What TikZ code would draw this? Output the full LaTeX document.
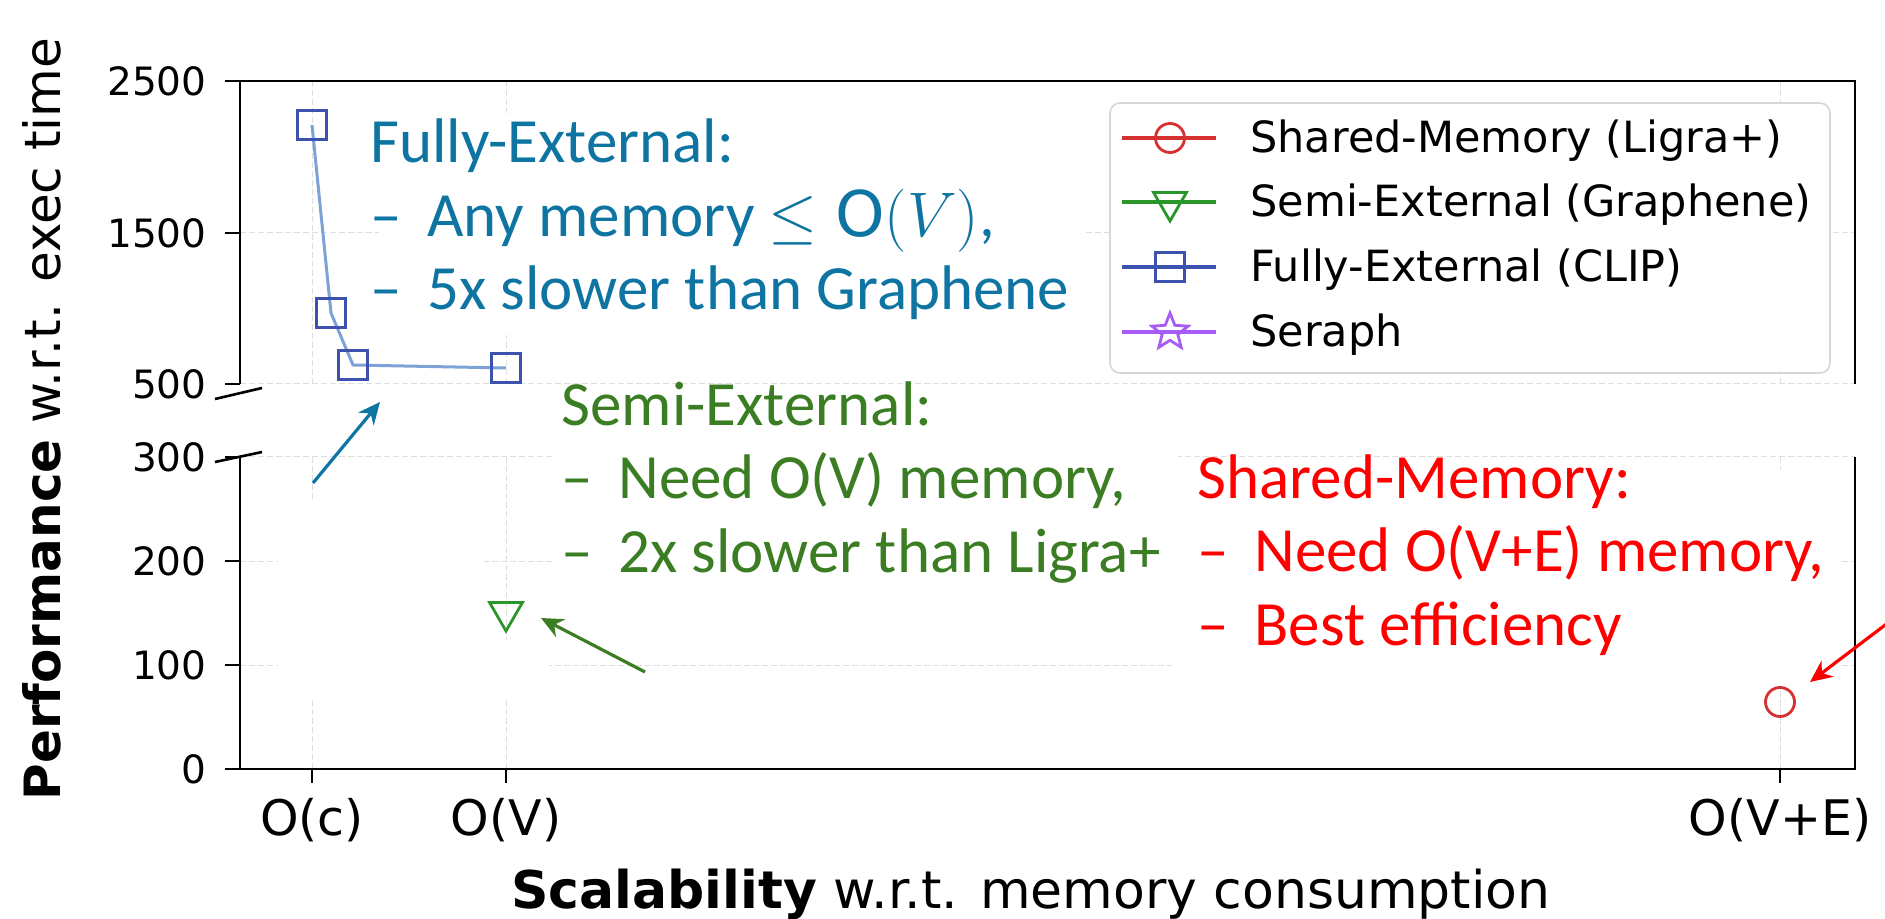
\RequirePackage{fix-cm}
\documentclass[tikz,border=0pt]{standalone}
\usepackage{fontspec}
\setmainfont{DejaVu Sans}
\newfontfamily\annfont{Carlito}
\usetikzlibrary{arrows.meta, shapes.geometric, positioning}

\definecolor{feblue}{RGB}{14,116,162}
\definecolor{segreen}{RGB}{59,125,35}
\definecolor{shred}{RGB}{255,0,0}
\definecolor{mkred}{RGB}{214,48,49}
\definecolor{mkgreen}{RGB}{42,150,42}
\definecolor{mkblue}{RGB}{61,82,174}
\definecolor{mkpurple}{RGB}{168,92,245}
\definecolor{lineblue}{RGB}{125,162,214}
\definecolor{gridgray}{RGB}{222,222,222}
\definecolor{legframe}{RGB}{215,215,215}

\newcommand{\notedash}{\makebox[28.5pt][l]{–}}

\tikzset{
  sqmark/.style={draw=mkblue, line width=1.4pt, minimum size=14.5pt, inner sep=0pt},
  cmark/.style={circle, draw=mkred, line width=1.4pt, minimum size=14.5pt, inner sep=0pt},
  tmark/.style={regular polygon, regular polygon sides=3, shape border rotate=180, draw=mkgreen, line width=1.4pt, minimum size=19pt, inner sep=0pt},
  smark/.style={star, star points=5, star point ratio=2.3, draw=mkpurple, line width=1.4pt, minimum size=19pt, inner sep=0pt},
  gridln/.style={gridgray, line width=0.5pt, dash pattern=on 3pt off 1.5pt},
  spine/.style={line width=1.3pt, black},
  ytick/.style={anchor=east, inner sep=0pt, font=\fontsize{19.5}{23}\selectfont},
  xtick/.style={anchor=base, inner sep=0pt, font=\fontsize{24.5}{28}\selectfont},
  note/.style={anchor=base west, align=left, inner sep=0pt, font=\annfont\fontsize{31.5}{36.75}\selectfont},
  callout/.style={line width=1.6pt, -{Stealth[length=11pt, width=10pt]}},
  legtext/.style={anchor=base west, inner sep=0pt, font=\fontsize{21.5}{25}\selectfont},
}

\begin{document}
\begin{tikzpicture}[x=0.5pt, y=-0.5pt]
\useasboundingbox (0,0) rectangle (1885,919);

% grid
\foreach \y in {233,384,457,561,665}
  \draw[gridln] (240,\y) -- (1855,\y);
\foreach \x in {312,506,1780} {
  \draw[gridln] (\x,81) -- (\x,384);
  \draw[gridln] (\x,457) -- (\x,769);
}

% white masks over the grid
\fill[white] (379,113) rectangle (1086,335);
\fill[white] (555,400) rectangle (1178,610);
\fill[white] (1172,470) rectangle (1842,690);
\fill[white] (277,500) rectangle (484,700);
\fill[white] (484,640) rectangle (549,700);

% axes (broken)
\draw[spine] (240,384) -- (240,81) -- (1855,81) -- (1855,384);
\draw[spine] (240,457) -- (240,769) -- (1855,769) -- (1855,457);
\draw[spine] (215,399) -- (262,388);
\draw[spine] (215,462) -- (262,452);

\foreach \y/\lab in {81/2500, 233/1500, 384/500, 457/300, 561/200, 665/100, 769/0} {
  \draw[spine] (225,\y) -- (240,\y);
  \node[ytick] (yt\lab) at (207,\y) {\lab};
}
\foreach \x/\lab/\nm in {312/O(c)/oc, 506/O(V)/ov, 1780/O(V+E)/ove} {
  \draw[spine] (\x,769) -- (\x,783);
  \node[xtick] (xt\nm) at (\x,835) {\lab};
}

\node[rotate=90, font=\fontsize{25}{30}\selectfont] (ylab) at (42,419)
  {\textbf{Performance} w.r.t. exec time};
\node[anchor=base, font=\fontsize{26}{30}\selectfont] (xlab) at (1031,908)
  {\textbf{Scalability} w.r.t. memory consumption};

% data
\coordinate (p1) at (312,125);
\coordinate (p2) at (331,313);
\coordinate (p3) at (353,365);
\coordinate (p4) at (506,368);
\draw[lineblue, line width=1.5pt] (p1) -- (p2) -- (p3) -- (p4);
\node[sqmark] (fe1) at (p1) {};
\node[sqmark] (fe2) at (p2) {};
\node[sqmark] (fe3) at (p3) {};
\node[sqmark] (fe4) at (p4) {};
\node[tmark] (se1) at (506,612) {};
\node[cmark] (sm1) at (1780,702) {};

% legend
\draw[legframe, fill=white, line width=0.8pt, rounded corners=5pt] (1110,103) rectangle (1830,373);
\foreach \yy/\mk/\col/\lab/\nm in {138/cmark/mkred/{Shared-Memory (Ligra+)}/sm,
    202/tmark/mkgreen/{Semi-External (Graphene)}/se,
    267/sqmark/mkblue/{Fully-External (CLIP)}/fe,
    332/smark/mkpurple/Seraph/sr} {
  \draw[\col, line width=2.2pt] (1122,\yy) -- (1216,\yy);
  \node[\mk] (lm\nm) at (1170,\yy) {};
  \node[legtext] (lt\nm) at (1250,\yy+15) {\lab};
}

% notes (base = last line)
\node[note, text=feblue] (fenote) at (370,310)
  {Fully-External:\\ \notedash Any memory $\leq \mathrm{O}(V)$,\\ \notedash 5x slower than Graphene};
\node[note, text=segreen] (senote) at (561,572)
  {Semi-External:\\ \notedash Need O(V) memory,\\ \notedash 2x slower than Ligra+};
\node[note, text=shred] (smnote) at (1197,645)
  {Shared-Memory:\\ \notedash Need O(V+E) memory,\\ \notedash Best efficiency};

% call-out arrows
\coordinate (fetail) at (313,483);
\coordinate (fetip) at (380,402);
\coordinate (setail) at (645,672);
\coordinate (setip) at (541,618);
\coordinate (smtail) at (1897,616);
\coordinate (smtip) at (1810,682);
\draw[callout, feblue] (fetail) -- (fetip);
\draw[callout, segreen] (setail) -- (setip);
\draw[callout, shred] (smtail) -- (smtip);
\end{tikzpicture}
\end{document}
